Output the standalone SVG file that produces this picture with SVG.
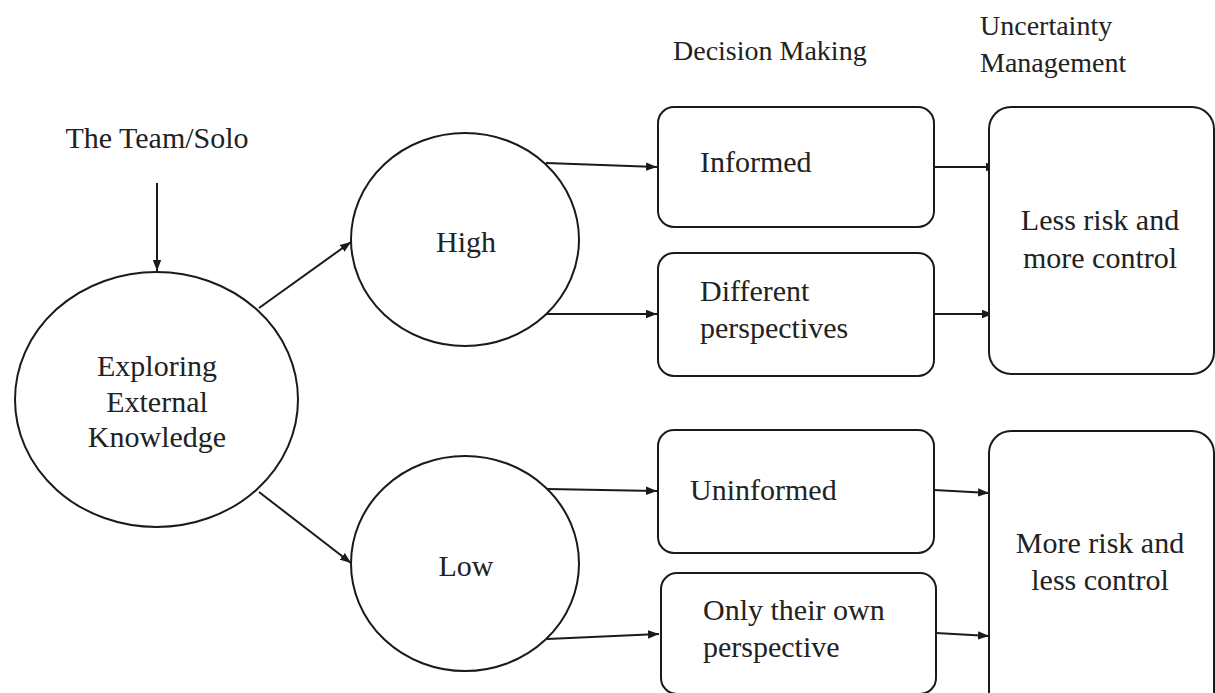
<svg xmlns="http://www.w3.org/2000/svg" width="1215" height="693" viewBox="0 0 1215 693">
  <style>
    .shape { fill: #ffffff; stroke: #1a1a1a; stroke-width: 2; }
    .edge { fill: none; stroke: #1a1a1a; stroke-width: 2; }
    text { font-family: "Liberation Serif", "Times New Roman", serif; fill: #222222; }
    .lbl { font-size: 30px; }
    .hdr { font-size: 28px; }
    .mid { text-anchor: middle; }
  </style>
  <defs>
    <marker id="arrow" markerUnits="userSpaceOnUse" markerWidth="12" markerHeight="10" refX="11" refY="5" orient="auto">
      <path d="M0,0.8 L11,5 L0,9.2 Z" fill="#1a1a1a"/>
    </marker>
  </defs>

  <rect width="1215" height="693" fill="#ffffff"/>

  <!-- column headings -->
  <g id="headings">
    <text class="hdr" x="673" y="60">Decision Making</text>
    <text class="hdr" x="980" y="35">Uncertainty</text>
    <text class="hdr" x="980" y="72">Management</text>
    <text class="lbl mid" x="157" y="148">The Team/Solo</text>
  </g>

  <!-- connectors -->
  <g id="connectors">
    <line class="edge" x1="157" y1="183" x2="157" y2="271" marker-end="url(#arrow)"/>
    <line class="edge" x1="259" y1="308" x2="351" y2="242" marker-end="url(#arrow)"/>
    <line class="edge" x1="259" y1="492" x2="351" y2="563" marker-end="url(#arrow)"/>
    <line class="edge" x1="546" y1="163" x2="657" y2="167" marker-end="url(#arrow)"/>
    <line class="edge" x1="547" y1="314" x2="657" y2="314" marker-end="url(#arrow)"/>
    <line class="edge" x1="547" y1="489" x2="657" y2="491" marker-end="url(#arrow)"/>
    <line class="edge" x1="547" y1="639" x2="659" y2="634" marker-end="url(#arrow)"/>
    <line class="edge" x1="934" y1="167" x2="997" y2="167" marker-end="url(#arrow)"/>
    <line class="edge" x1="934" y1="314" x2="993" y2="314" marker-end="url(#arrow)"/>
    <line class="edge" x1="934" y1="490" x2="989" y2="493" marker-end="url(#arrow)"/>
    <line class="edge" x1="936" y1="633" x2="989" y2="636" marker-end="url(#arrow)"/>
  </g>

  <!-- central node -->
  <g id="node-exploring">
    <ellipse class="shape" cx="156.5" cy="399.5" rx="141.5" ry="127.5"/>
    <text class="lbl mid" x="157" y="376">Exploring</text>
    <text class="lbl mid" x="157" y="412">External</text>
    <text class="lbl mid" x="157" y="447">Knowledge</text>
  </g>

  <g id="node-high">
    <ellipse class="shape" cx="465" cy="239.5" rx="114" ry="106.5"/>
    <text class="lbl mid" x="466" y="252">High</text>
  </g>

  <g id="node-low">
    <ellipse class="shape" cx="465" cy="563.5" rx="114" ry="107.5"/>
    <text class="lbl mid" x="466" y="576">Low</text>
  </g>

  <!-- decision making -->
  <g id="node-informed">
    <rect class="shape" x="658" y="107" width="276" height="120" rx="16"/>
    <text class="lbl" x="700" y="172">Informed</text>
  </g>

  <g id="node-different">
    <rect class="shape" x="658" y="253" width="276" height="123" rx="16"/>
    <text class="lbl" x="700" y="301">Different</text>
    <text class="lbl" x="700" y="338">perspectives</text>
  </g>

  <g id="node-uninformed">
    <rect class="shape" x="658" y="430" width="276" height="123" rx="16"/>
    <text class="lbl" x="690" y="500">Uninformed</text>
  </g>

  <g id="node-own">
    <rect class="shape" x="661" y="573" width="275" height="121" rx="16"/>
    <text class="lbl" x="703" y="620">Only their own</text>
    <text class="lbl" x="703" y="657">perspective</text>
  </g>

  <!-- uncertainty management -->
  <g id="node-less-risk">
    <rect class="shape" x="989" y="107" width="225" height="267" rx="22"/>
    <text class="lbl mid" x="1100" y="230">Less risk and</text>
    <text class="lbl mid" x="1100" y="268">more control</text>
  </g>

  <g id="node-more-risk">
    <rect class="shape" x="989" y="431" width="225" height="290" rx="22"/>
    <text class="lbl mid" x="1100" y="553">More risk and</text>
    <text class="lbl mid" x="1100" y="590">less control</text>
  </g>
</svg>
